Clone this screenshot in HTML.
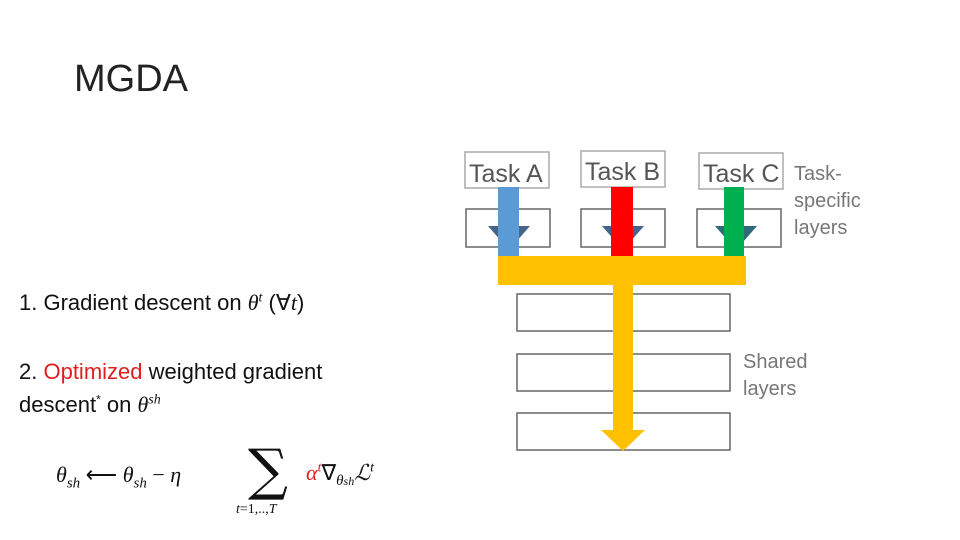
<!DOCTYPE html>
<html><head><meta charset="utf-8"><style>
body{margin:0;width:960px;height:540px;background:#fff;position:relative;overflow:hidden;font-family:"Liberation Sans",sans-serif}
.t{position:absolute;white-space:nowrap}
.m{font-family:"Liberation Serif",serif;font-style:italic}
</style></head><body>
<div class="t" style="left:74px;top:58px;font-size:38px;color:#222">MGDA</div>
<div class="t" style="left:19px;top:290px;font-size:22px;color:#111">1. Gradient descent on <span class="m">θ<sup style="font-size:14px">t</sup></span> (∀<span class="m">t</span>)</div>
<div class="t" style="left:19px;top:359px;font-size:22px;color:#111">2. <span style="color:#e02020">Optimized</span> weighted gradient</div>
<div class="t" style="left:19px;top:392px;font-size:22px;color:#111">descent<sup style="font-size:12px">*</sup> on <span class="m">θ<sup style="font-size:14px">sh</sup></span></div>
<div class="t m" style="left:56px;top:462px;font-size:22px;color:#111">θ<sub style="font-size:15px">sh</sub> <span style="font-style:normal">⟵</span> θ<sub style="font-size:15px">sh</sub> <span style="font-style:normal">−</span> η</div>
<div class="t" style="left:248px;top:438px;font-size:56px;font-family:'DejaVu Serif',serif;color:#111">∑</div>
<div class="t m" style="left:236px;top:502px;font-size:14px;color:#111">t<span style="font-style:normal">=1,..,</span>T</div>
<div class="t m" style="left:306px;top:460px;font-size:22px;color:#111"><span style="color:#e02020">α<sup style="font-size:14px">t</sup></span><span style="font-style:normal">∇</span><sub style="font-size:15px">θ<span style="font-size:12px">sh</span></sub>ℒ<sup style="font-size:14px">t</sup></div>
<svg width="960" height="540" style="position:absolute;left:0;top:0">
<g fill="none" stroke="#666" stroke-width="1.5">
<rect x="465" y="152" width="84" height="36" stroke="#aaa"/>
<rect x="581" y="151" width="84" height="36" stroke="#aaa"/>
<rect x="699" y="153" width="84" height="36" stroke="#aaa"/>
<rect x="466" y="209" width="84" height="38"/>
<rect x="581" y="209" width="84" height="38"/>
<rect x="697" y="209" width="84" height="38"/>
<rect x="517" y="294" width="213" height="37"/>
<rect x="517" y="354" width="213" height="37"/>
<rect x="517" y="413" width="213" height="37"/>
</g>
<polygon points="488,226 530,226 509,250" fill="#44648c"/>
<polygon points="602,226 644,226 623,250" fill="#44648c"/>
<polygon points="715,226 757,226 736,250" fill="#2f6a7a"/>
<rect x="498" y="187" width="21" height="70" fill="#5b9bd5"/>
<rect x="611" y="187" width="22" height="70" fill="#ff0000"/>
<rect x="724" y="187" width="20" height="70" fill="#00b050"/>
<rect x="498" y="256" width="248" height="29" fill="#ffc000"/>
<rect x="613" y="284" width="20" height="148" fill="#ffc000"/>
<polygon points="601,430 645,430 623,451" fill="#ffc000"/>
<g font-family="Liberation Sans,sans-serif" fill="#555">
<text x="469" y="182" font-size="25">Task A</text>
<text x="585" y="180" font-size="25">Task B</text>
<text x="703" y="182" font-size="25">Task C</text>
<text x="794" y="180" font-size="20" fill="#777">Task-</text>
<text x="794" y="207" font-size="20" fill="#777">specific</text>
<text x="794" y="234" font-size="20" fill="#777">layers</text>
<text x="743" y="368" font-size="20" fill="#777">Shared</text>
<text x="743" y="395" font-size="20" fill="#777">layers</text>
</g>
</svg>
</body></html>
